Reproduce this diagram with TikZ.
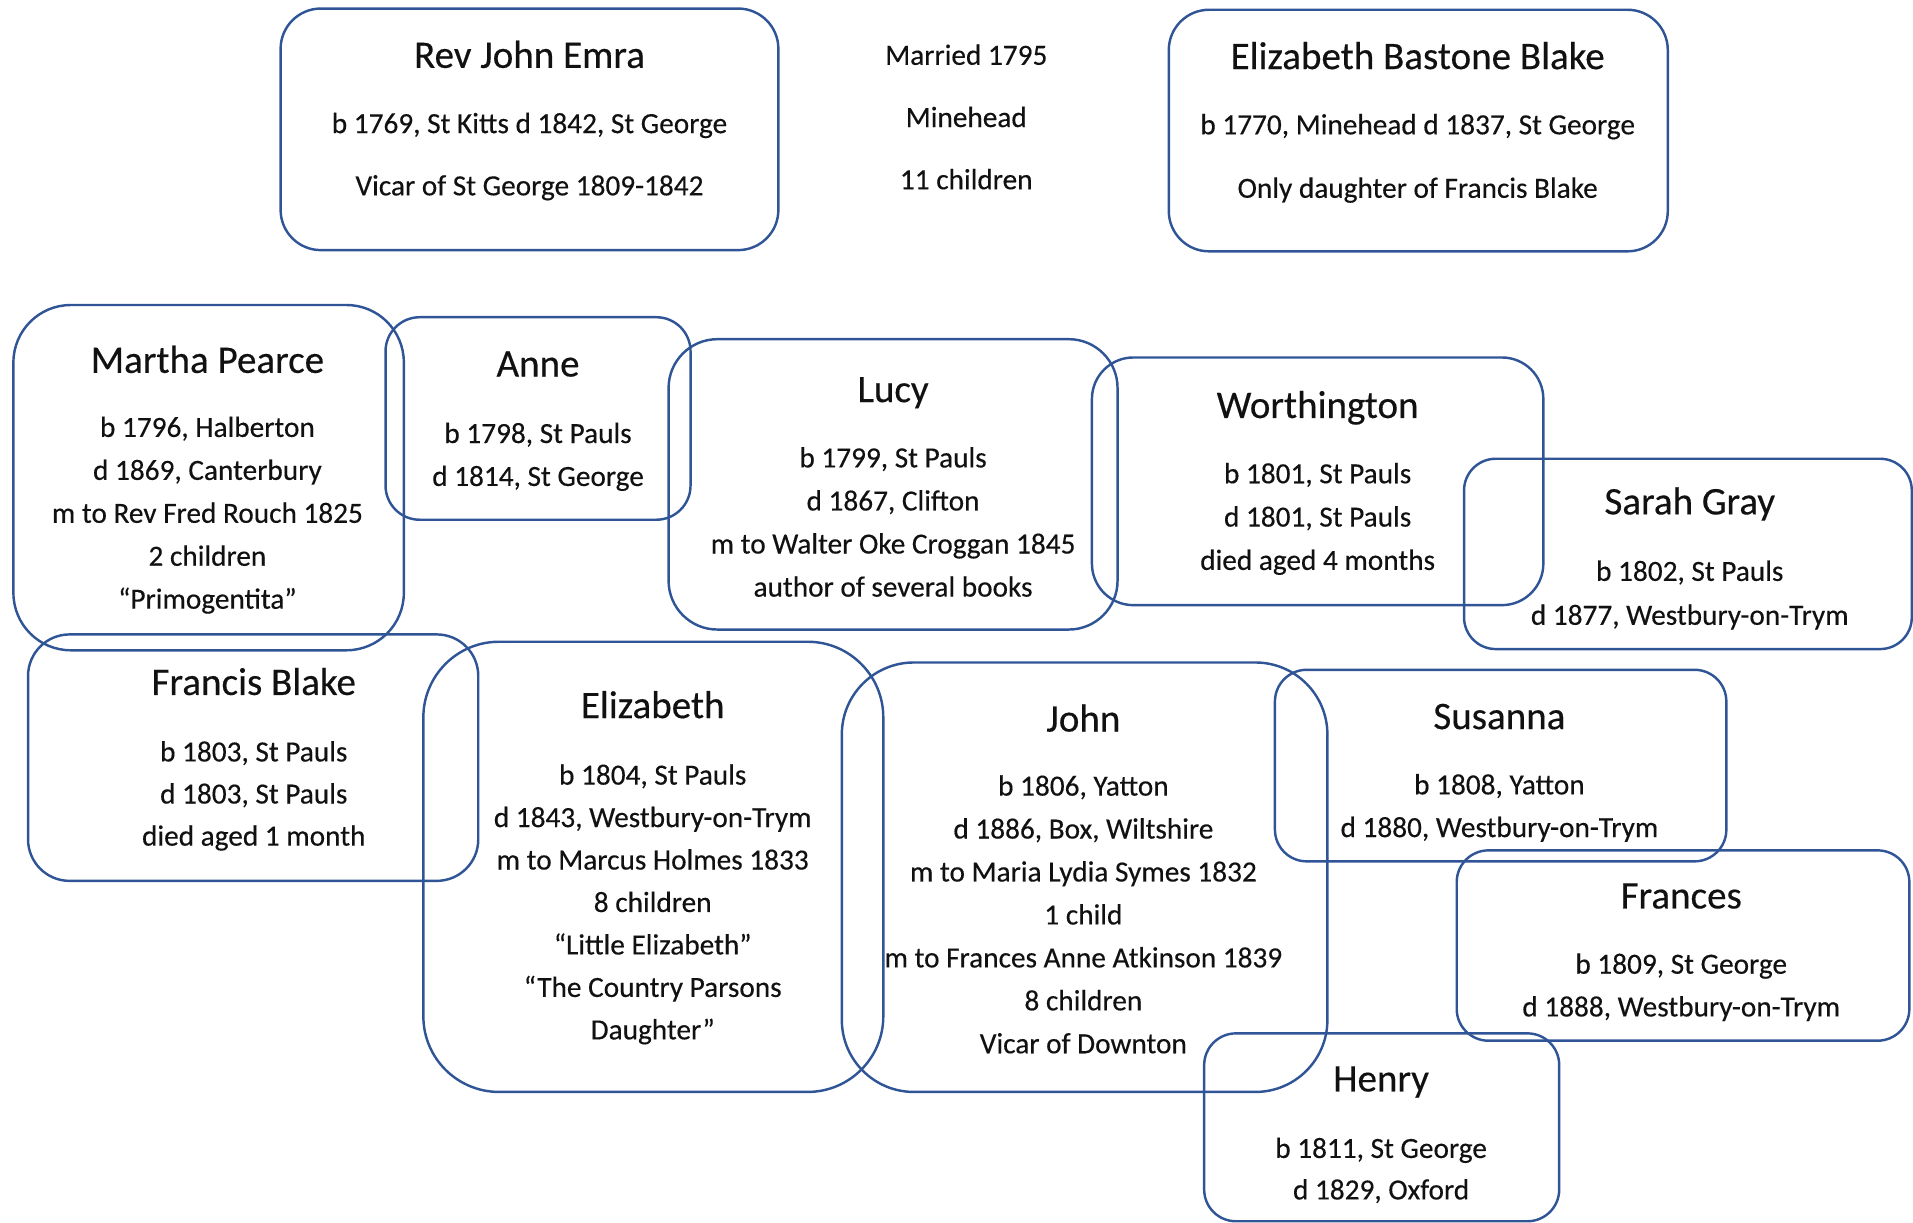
\documentclass[tikz,border=0pt]{standalone}
\usepackage{fontspec}
\setmainfont{Carlito}[FakeBold=0.35]
\definecolor{boxblue}{HTML}{2F5597}
\definecolor{txt}{HTML}{111111}
\begin{document}
\begin{tikzpicture}[x=1pt,y=-1pt,
  pbox/.style={draw=boxblue, line width=2pt, inner sep=0pt},
  ttl/.style={font=\fontsize{32}{38}\selectfont, text=txt, text height=23.7pt, text depth=4.5pt, inner sep=0pt},
  bdy/.style={font=\fontsize{24}{29}\selectfont, text=txt, text height=17.8pt, text depth=3.6pt, inner sep=0pt}]
\useasboundingbox (0,0) rectangle (1568,1002);

% parents
\node[pbox, minimum width=408pt, minimum height=198pt, rounded corners=33pt] (rev) at (434,106) {};
\node[ttl] (rev-t) at (434,46) {Rev John Emra};
\node[bdy] (rev-1) at (434,102) {b 1769, St Kitts d 1842, St George};
\node[bdy] (rev-2) at (434,153) {Vicar of St George 1809-1842};

\node[bdy] (mar-1) at (792,46) {Married 1795};
\node[bdy] (mar-2) at (792,97) {Minehead};
\node[bdy] (mar-3) at (792,148) {11 children};

\node[pbox, minimum width=409pt, minimum height=198pt, rounded corners=33pt] (ebb) at (1162.5,107) {};
\node[ttl] (ebb-t) at (1162,47) {Elizabeth Bastone Blake};
\node[bdy] (ebb-1) at (1162,103) {b 1770, Minehead d 1837, St George};
\node[bdy] (ebb-2) at (1162,155) {Only daughter of Francis Blake};

% children
\node[pbox, minimum width=320pt, minimum height=283pt, rounded corners=47pt] (martha) at (171,391.5) {};
\node[ttl] (martha-t) at (170,296) {Martha Pearce};
\foreach \s [count=\i] in {{b 1796, Halberton},{d 1869, Canterbury},{m to Rev Fred Rouch 1825},{2 children},{“Primogentita”}}
  \node[bdy] (martha-\i) at (170,{351+35.2*(\i-1)}) {\s};

\node[pbox, minimum width=250pt, minimum height=166pt, rounded corners=28pt] (anne) at (441,343) {};
\node[ttl] (anne-t) at (441,299) {Anne};
\foreach \s [count=\i] in {{b 1798, St Pauls},{d 1814, St George}}
  \node[bdy] (anne-\i) at (441,{356+35.2*(\i-1)}) {\s};

\node[pbox, minimum width=368pt, minimum height=238pt, rounded corners=40pt] (lucy) at (732,397) {};
\node[ttl] (lucy-t) at (732,320) {Lucy};
\foreach \s [count=\i] in {{b 1799, St Pauls},{d 1867, Clifton},{m to Walter Oke Croggan 1845},{author of several books}}
  \node[bdy] (lucy-\i) at (732,{376+35.3*(\i-1)}) {\s};

\node[pbox, minimum width=370pt, minimum height=203pt, rounded corners=34pt] (worth) at (1080,394.5) {};
\node[ttl] (worth-t) at (1080,333) {Worthington};
\foreach \s [count=\i] in {{b 1801, St Pauls},{d 1801, St Pauls},{died aged 4 months}}
  \node[bdy] (worth-\i) at (1080,{389+35.5*(\i-1)}) {\s};

\node[pbox, minimum width=367pt, minimum height=156pt, rounded corners=26pt] (sarah) at (1383.5,454) {};
\node[ttl] (sarah-t) at (1385,412) {Sarah Gray};
\foreach \s [count=\i] in {{b 1802, St Pauls},{d 1877, Westbury-on-Trym}}
  \node[bdy] (sarah-\i) at (1385,{469+36*(\i-1)}) {\s};

\node[pbox, minimum width=369pt, minimum height=202pt, rounded corners=34pt] (francis) at (207.5,621) {};
\node[ttl] (francis-t) at (208,560) {Francis Blake};
\foreach \s [count=\i] in {{b 1803, St Pauls},{d 1803, St Pauls},{died aged 1 month}}
  \node[bdy] (francis-\i) at (208,{617+34.5*(\i-1)}) {\s};

\node[pbox, minimum width=377pt, minimum height=369pt, rounded corners=62pt] (eliz) at (535.5,710.5) {};
\node[ttl] (eliz-t) at (535,579) {Elizabeth};
\foreach \s [count=\i] in {{b 1804, St Pauls},{d 1843, Westbury-on-Trym},{m to Marcus Holmes 1833},{8 children},{“Little Elizabeth”},{“The Country Parsons},{Daughter”}}
  \node[bdy] (eliz-\i) at (535,{636+34.8*(\i-1)}) {\s};

\node[pbox, minimum width=398pt, minimum height=352pt, rounded corners=59pt] (john) at (889,719) {};
\node[ttl] (john-t) at (888,590) {John};
\foreach \s [count=\i] in {{b 1806, Yatton},{d 1886, Box, Wiltshire},{m to Maria Lydia Symes 1832},{1 child},{m to Frances Anne Atkinson 1839},{8 children},{Vicar of Downton}}
  \node[bdy] (john-\i) at (888,{645+35.2*(\i-1)}) {\s};

\node[pbox, minimum width=370pt, minimum height=157pt, rounded corners=26pt] (sus) at (1230,627.5) {};
\node[ttl] (sus-t) at (1229,588) {Susanna};
\foreach \s [count=\i] in {{b 1808, Yatton},{d 1880, Westbury-on-Trym}}
  \node[bdy] (sus-\i) at (1229,{644+35*(\i-1)}) {\s};

\node[pbox, minimum width=371pt, minimum height=156pt, rounded corners=26pt] (frances) at (1379.5,775) {};
\node[ttl] (frances-t) at (1378,735) {Frances};
\foreach \s [count=\i] in {{b 1809, St George},{d 1888, Westbury-on-Trym}}
  \node[bdy] (frances-\i) at (1378,{791+35*(\i-1)}) {\s};

\node[pbox, minimum width=291pt, minimum height=154pt, rounded corners=26pt] (henry) at (1132.5,924) {};
\node[ttl] (henry-t) at (1132,885) {Henry};
\foreach \s [count=\i] in {{b 1811, St George},{d 1829, Oxford}}
  \node[bdy] (henry-\i) at (1132,{942+34*(\i-1)}) {\s};
\end{tikzpicture}
\end{document}
